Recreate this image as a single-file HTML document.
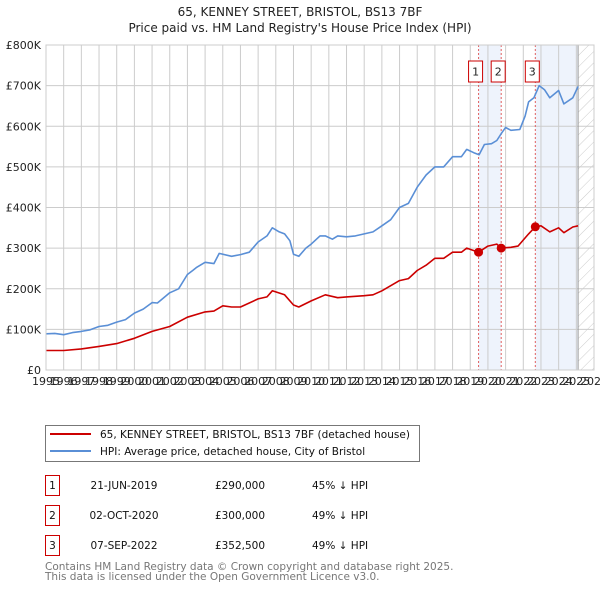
<!DOCTYPE html>
<html><head><meta charset="utf-8"><style>
body{margin:0;background:#fff;font-family:"DejaVu Sans","Liberation Sans",sans-serif;}
svg text{font-family:"DejaVu Sans","Liberation Sans",sans-serif;}
</style></head><body>
<svg id="chart" width="600" height="590" viewBox="0 0 600 590" xmlns="http://www.w3.org/2000/svg">
<defs><pattern id="hatch" width="8" height="8" patternUnits="userSpaceOnUse" patternTransform="rotate(45)"><line x1="0" y1="0" x2="0" y2="8" stroke="#ccc" stroke-width="1"/></pattern></defs>
<text x="300" y="16" text-anchor="middle" font-size="12" fill="#222">65, KENNEY STREET, BRISTOL, BS13 7BF</text>
<text x="300" y="32" text-anchor="middle" font-size="12" fill="#222">Price paid vs. HM Land Registry's House Price Index (HPI)</text>
<g id="plot"></g>
<g>
<rect x="45.5" y="425.5" width="374" height="36" fill="#fff" stroke="#777"/>
<line x1="50" y1="434" x2="91" y2="434" stroke="#cc0000" stroke-width="2"/>
<text x="100" y="438" font-size="10.5" fill="#111">65, KENNEY STREET, BRISTOL, BS13 7BF (detached house)</text>
<line x1="50" y1="451" x2="91" y2="451" stroke="#5a8fd6" stroke-width="2"/>
<text x="100" y="455" font-size="10.5" fill="#111">HPI: Average price, detached house, City of Bristol</text>
</g>
<g id="table"></g>
<text x="45" y="570" font-size="10.5" fill="#777">Contains HM Land Registry data © Crown copyright and database right 2025.</text>
<text x="45" y="580" font-size="10.5" fill="#777">This data is licensed under the Open Government Licence v3.0.</text>
</svg>
<script>
const hpiYears=[1995,1995.5,1996,1996.5,1997,1997.5,1998,1998.5,1999,1999.5,2000,2000.5,2001,2001.3,2001.5,2002,2002.5,2003,2003.3,2003.5,2004,2004.5,2004.8,2005.5,2006,2006.5,2007,2007.5,2007.8,2008.2,2008.5,2008.8,2009,2009.3,2009.7,2010,2010.5,2010.8,2011.2,2011.5,2012,2012.5,2013,2013.5,2014,2014.5,2015,2015.5,2016,2016.5,2017,2017.5,2018,2018.5,2018.8,2019.2,2019.5,2019.8,2020.2,2020.5,2020.8,2021,2021.3,2021.8,2022.1,2022.3,2022.6,2022.9,2023.2,2023.5,2024,2024.3,2024.8,2025.1];
const hpiValues=[89,90,87,92,95,99,107,110,118,124,140,150,166,165,172,190,200,235,245,252,265,262,287,280,284,290,315,330,350,340,335,318,285,280,300,310,330,330,322,330,328,330,335,340,355,370,400,410,450,480,500,500,525,525,543,535,530,555,557,565,585,597,590,592,625,660,670,700,690,670,688,655,670,698];
const ppYears=[1995,1996,1997,1998,1999,2000,2001,2002,2003,2004,2004.5,2005,2005.5,2006,2007,2007.5,2007.8,2008.5,2009,2009.3,2010,2010.8,2011.5,2012,2013,2013.5,2014,2015,2015.5,2016,2016.5,2017,2017.5,2018,2018.5,2018.8,2019.47,2020,2020.5,2020.75,2021.3,2021.7,2022.3,2022.68,2023,2023.5,2024,2024.3,2024.8,2025.1];
const ppValues=[48,48,52,58,65,78,95,107,130,143,145,158,155,155,175,180,195,185,160,155,170,185,178,180,183,185,195,220,225,245,258,275,275,290,290,300,290,305,310,300,302,305,335,352.5,355,340,350,338,352,355];
const saleYears=[2019.47,2020.75,2022.68];
const saleValues=[290,300,352.5];
const saleLabels=["1","2","3"];
const saleDates=["21-JUN-2019","02-OCT-2020","07-SEP-2022"];
const salePrices=["£290,000","£300,000","£352,500"];
const salePcts=["45% ↓ HPI","49% ↓ HPI","49% ↓ HPI"];
const yTicks=[0,100,200,300,400,500,600,700,800];
const yTickLabels=["£0","£100K","£200K","£300K","£400K","£500K","£600K","£700K","£800K"];
const xTicks=[1995,1996,1997,1998,1999,2000,2001,2002,2003,2004,2005,2006,2007,2008,2009,2010,2011,2012,2013,2014,2015,2016,2017,2018,2019,2020,2021,2022,2023,2024,2025,2026];
const dataEnd=2025.1;

const NS="http://www.w3.org/2000/svg";
const X0=46,X1=594,Y0=370,Y1=45,T0=1995,T1=2026,VMAX=800;
const xs=t=>X0+(t-T0)/(T1-T0)*(X1-X0);
const ys=v=>Y0-v/VMAX*(Y0-Y1);
const plot=document.getElementById('plot');
function mk(tag,attrs,parent,txt){const e=document.createElementNS(NS,tag);for(const k in attrs)e.setAttribute(k,attrs[k]);if(txt!==undefined)e.textContent=txt;(parent||plot).appendChild(e);return e;}

let r=mk('rect',{x:X0,y:Y1,width:X1-X0,height:Y0-Y1,fill:'#fff'});


r=mk('rect',{x:xs(saleYears[0]),y:Y1,width:xs(saleYears[1])-xs(saleYears[0]),height:Y0-Y1,fill:'#eef3fc'});


r=mk('rect',{x:xs(saleYears[2]),y:Y1,width:xs(dataEnd)-xs(saleYears[2]),height:Y0-Y1,fill:'#eef3fc'});


r=mk('rect',{x:xs(dataEnd),y:Y1,width:X1-xs(dataEnd),height:Y0-Y1,fill:'url(#hatch)'});



xTicks.forEach(t=>{
  const g=mk('line',{x1:xs(t),x2:xs(t),y1:Y1,y2:Y0,stroke:'#ccc','stroke-width':1});
  
  
  const l=mk('text',{x:xs(t),y:Y0+15,'font-size':11,fill:'#222','text-anchor':'middle'},plot,String(t));
  
  
});
yTicks.forEach((v,i)=>{
  const g=mk('line',{x1:X0,x2:X1,y1:ys(v),y2:ys(v),stroke:'#ccc','stroke-width':1});
  
  
  const l=mk('text',{x:X0-5,y:ys(v)+4,'font-size':11,fill:'#222','text-anchor':'end'},plot,yTickLabels[i]);
  
  
});
let dl=mk('line',{x1:xs(dataEnd),x2:xs(dataEnd),y1:Y1,y2:Y0,stroke:'#999','stroke-width':1});



saleYears.forEach((t,i)=>{
  const l=mk('line',{x1:xs(t),x2:xs(t),y1:Y1,y2:Y0,stroke:'#e06060','stroke-width':1,'stroke-dasharray':'2,2'});
  
  
});

function path(xsArr,vs,color,name){
  const d=xsArr.map((t,i)=>(i?'L':'M')+xs(t).toFixed(1)+','+ys(vs[i]).toFixed(1)).join('');
  const p=mk('path',{d:d,fill:'none',stroke:color,'stroke-width':1.6,'stroke-linejoin':'round'});
  
  
}
path(hpiYears,hpiValues,'#5a8fd6','hpi-line');
path(ppYears,ppValues,'#cc0000','price-paid-line');

saleYears.forEach((t,i)=>{
  const c=mk('circle',{cx:xs(t),cy:ys(saleValues[i]),r:4.5,fill:'#cc0000'});
  
  
  const bx=xs(t)-3-7;
  const b=mk('rect',{x:bx,y:61,width:14,height:21,fill:'#fff',stroke:'#cc0000'});
  
  
  const tx=mk('text',{x:bx+7,y:75.5,'font-size':11,'text-anchor':'middle',fill:'#222'},plot,saleLabels[i]);
  
  
});
let bd=mk('rect',{x:X0,y:Y1,width:X1-X0,height:Y0-Y1,fill:'none',stroke:'#ccc'});



const tbl=document.getElementById('table');
saleLabels.forEach((lab,i)=>{
  const y=476+i*30;
  const b=mk('rect',{x:45.5,y:y-0.5,width:14,height:20,fill:'#fff',stroke:'#cc0000'},tbl);
  
  
  const cells=[[52.5,lab,'middle','row-number'],[124,saleDates[i],'middle','row-date'],[240,salePrices[i],'middle','row-price'],[312,salePcts[i],'start','row-hpi-diff']];
  cells.forEach(c=>{
    const t=mk('text',{x:c[0],y:y+13,'font-size':10.5,fill:'#111','text-anchor':c[2]},tbl,c[1]);
    
    
  });
});
</script>
</body></html>
